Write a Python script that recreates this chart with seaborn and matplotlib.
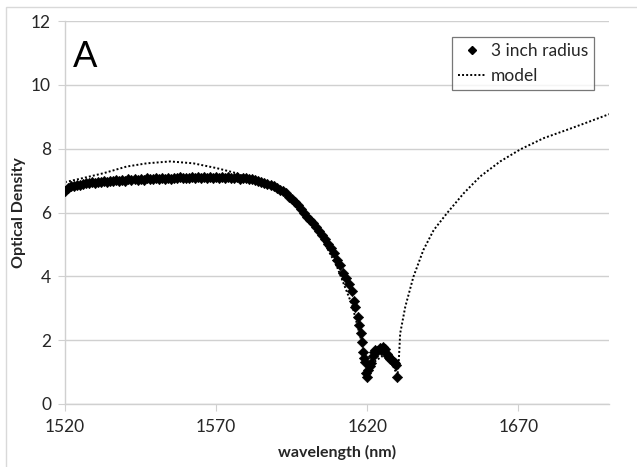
import numpy as np
import pandas as pd
import matplotlib
matplotlib.use('Agg')
import matplotlib.pyplot as plt
import seaborn as sns
from matplotlib.patches import Rectangle
from matplotlib.lines import Line2D

meas_wl = [1520, 1521, 1522, 1523, 1524, 1525, 1526, 1527, 1528, 1529,
           1530, 1531, 1532, 1533, 1534, 1535, 1536, 1537, 1538, 1539,
           1540, 1541, 1542, 1543, 1544, 1545, 1546, 1547, 1548, 1549,
           1550, 1551, 1552, 1553, 1554, 1555, 1556, 1557, 1558, 1559,
           1560, 1561, 1562, 1563, 1564, 1565, 1566, 1567, 1568, 1569,
           1570, 1571, 1572, 1573, 1574, 1575, 1576, 1577, 1578, 1579,
           1580, 1581, 1582, 1583, 1584, 1585, 1586, 1587, 1588, 1589,
           1590, 1591, 1592, 1593, 1594, 1595, 1596, 1597, 1598, 1599,
           1600, 1601, 1602, 1603, 1604, 1605, 1606, 1607, 1608, 1609,
           1610, 1611, 1612, 1613, 1614, 1615, 1615.5, 1616, 1616.8, 1617.4,
           1617.9, 1618.3, 1618.6, 1619.0, 1619.3, 1619.6, 1619.9, 1620.4, 1620.8, 1621.3,
           1621.9, 1622.3, 1622.6, 1623.2, 1624.1, 1624.6, 1625.2, 1625.8, 1626.5, 1627.0,
           1627.6, 1628.3, 1628.9, 1629.3, 1629.6, 1630.0]
meas_od = [6.66, 6.78, 6.82, 6.84, 6.86, 6.87, 6.90, 6.91, 6.92, 6.95,
           6.93, 6.97, 6.95, 6.98, 6.97, 7.00, 6.98, 7.01, 6.99, 7.02,
           7.00, 7.04, 7.01, 7.05, 7.02, 7.06, 7.03, 7.07, 7.04, 7.06,
           7.07, 7.04, 7.08, 7.05, 7.09, 7.06, 7.08, 7.07, 7.10, 7.07,
           7.09, 7.08, 7.10, 7.07, 7.11, 7.08, 7.10, 7.09, 7.11, 7.08,
           7.11, 7.09, 7.10, 7.08, 7.11, 7.09, 7.07, 7.10, 7.06, 7.09,
           7.07, 7.05, 7.04, 7.02, 6.99, 6.97, 6.93, 6.90, 6.86, 6.82,
           6.77, 6.72, 6.66, 6.60, 6.50, 6.42, 6.33, 6.22, 6.10, 5.98,
           5.86, 5.78, 5.67, 5.55, 5.43, 5.30, 5.18, 5.02, 4.88, 4.72,
           4.52, 4.36, 4.12, 3.95, 3.75, 3.55, 3.22, 3.05, 2.74, 2.48,
           2.22, 1.95, 1.62, 1.45, 1.33, 0.98, 0.86, 1.05, 1.18, 1.30,
           1.50, 1.62, 1.70, 1.65, 1.74, 1.68, 1.80, 1.72, 1.56, 1.50,
           1.40, 1.38, 1.33, 1.28, 1.22, 0.86]

# model curve
model_wl = [1520, 1526, 1532.7, 1540.4, 1547, 1554.8, 1562.5, 1570.2, 1576.8, 1580,
            1585, 1590, 1595, 1600, 1605, 1610, 1615, 1618, 1620, 1622,
            1625, 1628, 1630, 1630.4, 1630.9, 1632.6, 1635.3, 1638.6, 1642.0, 1646.4,
            1651.9, 1657.4, 1664.0, 1670.7, 1678.4, 1686.1, 1692.7, 1700]
model_od = [6.95, 7.08, 7.23, 7.44, 7.54, 7.60, 7.54, 7.39, 7.23, 7.10,
            6.95, 6.75, 6.40, 5.90, 5.20, 4.30, 3.10, 2.00, 1.00, 1.30,
            1.50, 1.30, 0.90, 1.27, 2.21, 3.05, 3.99, 4.83, 5.45, 5.98,
            6.60, 7.13, 7.60, 7.98, 8.33, 8.59, 8.82, 9.08]

x_ticks = [1520, 1570, 1620, 1670]
y_ticks = [0, 2, 4, 6, 8, 10, 12]

meas = pd.DataFrame({'wl': meas_wl, 'od': meas_od})
model = pd.DataFrame({'wl': model_wl, 'od': model_od})

sns.set_style('white')
plt.rcParams['font.family'] = ['Lato', 'DejaVu Sans']

fig = plt.figure(figsize=(6.37, 4.67), dpi=100)
ax = fig.add_axes([65 / 637, 1 - 404 / 467, (609 - 65) / 637, (404 - 21) / 467])

grid_col = '#d0d0d0'
dots = (0, (1, 1.1))
sns.lineplot(data=model, x='wl', y='od', ax=ax, color='black', linestyle=dots,
             linewidth=1.4, sort=False, estimator=None, zorder=2)
sns.scatterplot(data=meas, x='wl', y='od', ax=ax, marker='D', s=28, color='black',
                edgecolor='black', linewidth=0.4, zorder=3)

ax.set_xlim(1520, 1700)
ax.set_ylim(0, 12)
ax.set_xticks(x_ticks)
ax.set_yticks(y_ticks)
ax.yaxis.grid(True, color=grid_col, linewidth=1)
ax.xaxis.grid(False)
for side in ['top', 'right']:
    ax.spines[side].set_visible(False)
for side in ['left', 'bottom']:
    ax.spines[side].set_color(grid_col)
    ax.spines[side].set_linewidth(1)
ax.tick_params(axis='x', length=5, color=grid_col, labelsize=12.5, pad=6, direction='out', bottom=True)
ax.tick_params(axis='y', length=5, color=grid_col, labelsize=12.5, pad=5, direction='out', left=True)
for lab in ax.get_xticklabels() + ax.get_yticklabels():
    lab.set_color('#262626')

ax.set_xlabel('wavelength (nm)', fontsize=11.5, fontweight='bold', labelpad=7)
ax.set_ylabel('Optical Density', fontsize=11.5, fontweight='bold', labelpad=4)

ax.text(1522.5, 10.55, 'A', fontsize=26, color='black')

handles = [Line2D([], [], marker='D', color='black', linestyle='none', markersize=4),
           Line2D([], [], color='black', linestyle=dots, linewidth=1.4)]
leg = ax.legend(handles, ['3 inch radius', 'model'], loc='upper right',
                bbox_to_anchor=(594 / 637, 1 - 37 / 467), bbox_transform=fig.transFigure,
                frameon=True, fancybox=False, fontsize=12.5, handlelength=1.6,
                handletextpad=0.3, borderpad=0.35, labelspacing=0.5, borderaxespad=0)
leg.get_frame().set_edgecolor('#555555')
leg.get_frame().set_linewidth(0.9)

# light border of the chart area
fig.patches.append(Rectangle((6 / 637, -0.1), 2, 1 - 7 / 467 + 0.1, transform=fig.transFigure,
                             fill=False, edgecolor='#d9d9d9', linewidth=1))

fig.savefig('out.png', dpi=100)
